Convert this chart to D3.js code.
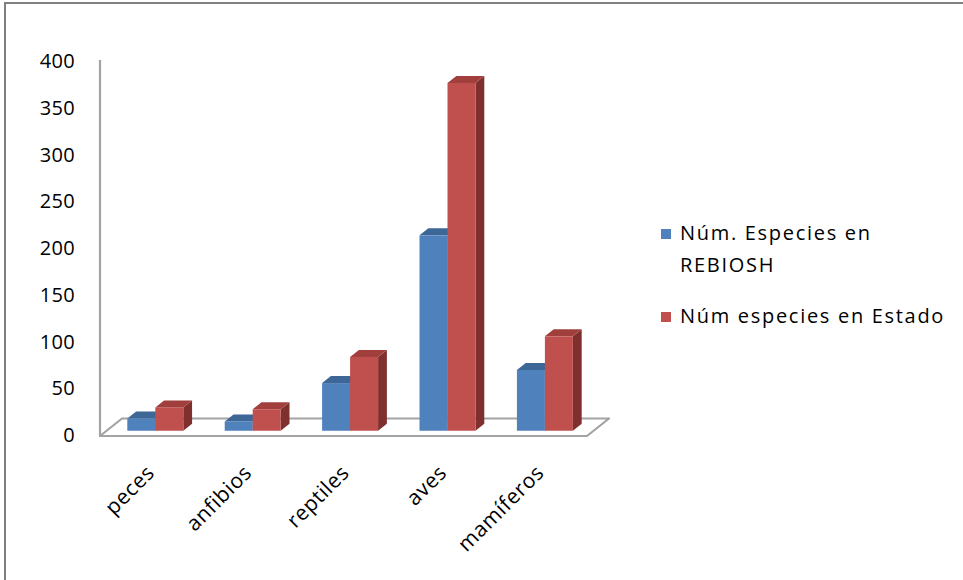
<!DOCTYPE html>
<html>
<head>
<meta charset="utf-8">
<script src="https://cdn.jsdelivr.net/npm/d3@7"></script>
<style>
  html, body { margin: 0; padding: 0; background: #fff; }
  svg { display: block; }
  text { font-family: "Open Sans", "Noto Sans", sans-serif; fill: #000; }
</style>
</head>
<body>
<svg id="chart" width="963" height="580"></svg>
<script>
// ---- data ----
const categories = ["peces", "anfibios", "reptiles", "aves", "mamíferos"];
const seriesNames = ["Núm. Especies en REBIOSH", "Núm especies en Estado"];
const rebiosh = [13, 10, 51, 209, 65];
const estado = [25, 23, 79, 372, 101];
const yTicks = [0, 50, 100, 150, 200, 250, 300, 350, 400];
const legendLines = [["Núm. Especies en", "REBIOSH"], ["Núm especies en Estado"]];

// ---- style / layout ----
const colors = {
  front: ["#4F81BD", "#C0504D"],
  top: ["#3D6796", "#A03F3C"],
  side: ["#385D8A", "#7F302E"]
};
const svg = d3.select("#chart");

// frame
svg.append("rect").attr("x", 5).attr("y", 3).attr("width", 1000).attr("height", 1000)
  .attr("fill", "#fff").attr("stroke", "#808080").attr("stroke-width", 2);

const floorLeft = 100, floorRight = 587, floorY = 436;
const depth = { dx: 22, dy: -17.5 };   // full floor depth vector
const barDepthStart = 0.3, barDepthEnd = 0.7;

const x = d3.scaleBand().domain(categories).range([floorLeft, floorRight]).padding(0);
const xSub = d3.scaleBand().domain([0, 1]).range([0, x.bandwidth()]).paddingInner(0).paddingOuter(0.74);
const y = d3.scaleLinear().domain([0, 400]).range([floorY, 62]);

// floor
const fl = [
  [floorLeft, floorY],
  [floorRight, floorY],
  [floorRight + depth.dx, floorY + depth.dy],
  [floorLeft + depth.dx, floorY + depth.dy]
];
svg.append("path").attr("d", d3.line()(fl) + "Z")
  .attr("fill", "#fff").attr("stroke", "#a3a3a3").attr("stroke-width", 2.2)
  .attr("stroke-linejoin", "round");

// vertical axis line
svg.append("line").attr("x1", floorLeft).attr("x2", floorLeft)
  .attr("y1", y(400) - 2).attr("y2", floorY)
  .attr("stroke", "#a3a3a3").attr("stroke-width", 2.2);

// y tick labels
svg.append("g").selectAll("text").data(yTicks).join("text")
  .attr("x", 75).attr("y", d => y(d) - 1.5)
  .attr("text-anchor", "end").attr("dominant-baseline", "central")
  .style("font-size", "20px")
  .style("letter-spacing", "0.3px")
  .text(d => d);

// bars
const series = [rebiosh, estado];
const ox = depth.dx * barDepthStart, oy = depth.dy * barDepthStart;
const bdx = depth.dx * (barDepthEnd - barDepthStart), bdy = depth.dy * (barDepthEnd - barDepthStart);
const barsG = svg.append("g");
categories.forEach((c, i) => {
  series.forEach((vals, s) => {
    const v = vals[i];
    const x0 = x(c) + xSub(s) + ox;
    const x1 = x0 + xSub.bandwidth();
    const yb = floorY + oy;
    const yt = yb - (y(0) - y(v));
    const g = barsG.append("g");
    // right side
    g.append("path").attr("d", d3.line()([[x1, yt], [x1 + bdx, yt + bdy], [x1 + bdx, yb + bdy], [x1, yb]]) + "Z")
      .attr("fill", colors.side[s]);
    // top
    g.append("path").attr("d", d3.line()([[x0, yt], [x1, yt], [x1 + bdx, yt + bdy], [x0 + bdx, yt + bdy]]) + "Z")
      .attr("fill", colors.top[s]);
    // front
    g.append("rect").attr("x", x0).attr("y", yt).attr("width", x1 - x0).attr("height", yb - yt)
      .attr("fill", colors.front[s]);
  });
});

// category labels
svg.append("g").selectAll("text").data(categories).join("text")
  .attr("text-anchor", "end")
  .attr("transform", d => `translate(${x(d) + x.bandwidth() / 2 + 7},${474}) rotate(-45)`)
  .style("font-size", "21px")
  .style("letter-spacing", "0.6px")
  .text(d => d);

// legend
const legend = svg.append("g");
const legendRows = [
  { sq: 229, lines: legendLines[0], base: 240 },
  { sq: 312, lines: legendLines[1], base: 323 }
];
legendRows.forEach((r, s) => {
  legend.append("rect").attr("x", 661).attr("y", r.sq).attr("width", 10).attr("height", 10)
    .attr("fill", colors.front[s]);
  r.lines.forEach((t, k) => {
    legend.append("text").attr("x", 680).attr("y", r.base + k * 31.5)
      .style("font-size", "20px").style("letter-spacing", "1.7px")
      .text(t);
  });
});
</script>
</body>
</html>
